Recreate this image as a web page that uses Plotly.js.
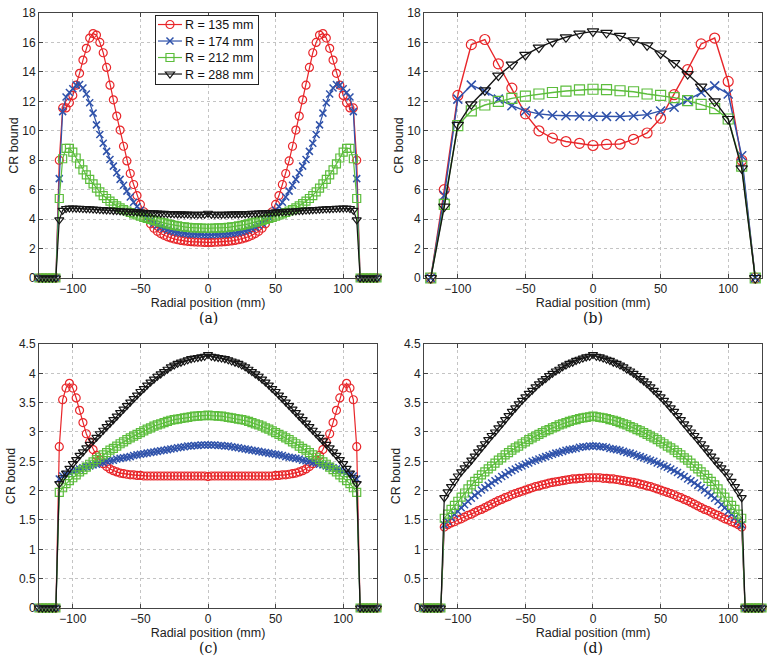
<!DOCTYPE html>
<html>
<head>
<meta charset="utf-8">
<script src="https://cdn.plot.ly/plotly-3.0.1.min.js"></script>
<style>html,body{margin:0;padding:0;background:#fff;}#chart{width:775px;height:666px;}</style>
</head>
<body>
<div id="chart"></div>
<script>
// ---------- data ----------
const SERIES_NAMES = ['R = 135 mm', 'R = 174 mm', 'R = 212 mm', 'R = 288 mm'];
const PANEL_LABELS = ['(a)', '(b)', '(c)', '(d)'];
const X_TICKS = [-100, -50, 0, 50, 100];
const Y_TICKS_AB = [0, 2, 4, 6, 8, 10, 12, 14, 16, 18];
const Y_TICKS_CD = [0, 0.5, 1, 1.5, 2, 2.5, 3, 3.5, 4, 4.5];

// fine radial grid (panels a, c, d), mm
const X_FINE = [-125,-122.5,-120,-117.5,-115,-112.5,-110,-107.5,-105,-102.5,-100,-97.5,-95,-92.5,-90,-87.5,-85,-82.5,-80,-77.5,-75,-72.5,-70,-67.5,-65,-62.5,-60,-57.5,-55,-52.5,-50,-47.5,-45,-42.5,-40,-37.5,-35,-32.5,-30,-27.5,-25,-22.5,-20,-17.5,-15,-12.5,-10,-7.5,-5,-2.5,0,2.5,5,7.5,10,12.5,15,17.5,20,22.5,25,27.5,30,32.5,35,37.5,40,42.5,45,47.5,50,52.5,55,57.5,60,62.5,65,67.5,70,72.5,75,77.5,80,82.5,85,87.5,90,92.5,95,97.5,100,102.5,105,107.5,110,112.5,115,117.5,120,122.5,125];
// coarse radial grid (panel b), mm
const X_COARSE = [-120,-110,-100,-90,-80,-70,-60,-50,-40,-30,-20,-10,0,10,20,30,40,50,60,70,80,90,100,110,120];

// panel (a)
const RED_A = [0,0,0,0,0,0,8.0,11.55,11.55,11.9,12.4,13.1,13.9,14.8,15.6,16.3,16.6,16.5,16.0,15.3,14.3,13.1,12.1,11.0,10.05,8.95,7.95,7.1,6.35,5.6,5.0,4.5,4.05,3.68,3.38,3.17,3.02,2.9,2.8,2.72,2.65,2.6,2.55,2.52,2.49,2.47,2.45,2.44,2.43,2.42,2.42,2.42,2.43,2.44,2.45,2.47,2.49,2.52,2.55,2.6,2.65,2.72,2.8,2.9,3.02,3.17,3.38,3.68,4.05,4.5,5.0,5.6,6.35,7.1,7.95,8.95,10.05,11.0,12.1,13.1,14.3,15.3,16.0,16.5,16.6,16.3,15.6,14.8,13.9,13.1,12.4,11.9,11.55,11.55,8.0,0,0,0,0,0,0];
const BLUE_A = [0,0,0,0,0,0,6.75,11.3,12.3,12.6,12.85,13.1,13.15,12.9,12.5,11.9,11.2,10.4,9.75,9.15,8.6,8.05,7.6,7.15,6.7,6.3,5.9,5.5,5.15,4.85,4.6,4.35,4.12,3.9,3.72,3.58,3.46,3.36,3.28,3.21,3.15,3.1,3.06,3.03,3.0,2.98,2.97,2.96,2.95,2.94,2.94,2.94,2.95,2.96,2.97,2.98,3.0,3.03,3.06,3.1,3.15,3.21,3.28,3.36,3.46,3.58,3.72,3.9,4.12,4.35,4.6,4.85,5.15,5.5,5.9,6.3,6.7,7.15,7.6,8.05,8.6,9.15,9.75,10.4,11.2,11.9,12.5,12.9,13.15,13.1,12.85,12.6,12.3,11.3,6.75,0,0,0,0,0,0];
const GREEN_A = [0,0,0,0,0,0,5.4,8.1,8.8,8.8,8.55,8.15,7.75,7.35,7.0,6.7,6.4,6.1,5.85,5.6,5.4,5.22,5.05,4.9,4.76,4.65,4.55,4.45,4.36,4.28,4.2,4.12,4.05,3.98,3.92,3.86,3.8,3.74,3.68,3.63,3.58,3.54,3.5,3.47,3.44,3.42,3.41,3.4,3.39,3.38,3.38,3.38,3.39,3.4,3.41,3.42,3.44,3.47,3.5,3.54,3.58,3.63,3.68,3.74,3.8,3.86,3.92,3.98,4.05,4.12,4.2,4.28,4.36,4.45,4.55,4.65,4.76,4.9,5.05,5.22,5.4,5.6,5.85,6.1,6.4,6.7,7.0,7.35,7.75,8.15,8.55,8.8,8.8,8.1,5.4,0,0,0,0,0,0];
const BLACK_A = [0,0,0,0,0,0,3.95,4.6,4.72,4.75,4.75,4.74,4.73,4.72,4.71,4.7,4.68,4.67,4.65,4.64,4.62,4.61,4.59,4.58,4.56,4.55,4.53,4.52,4.5,4.49,4.47,4.46,4.44,4.43,4.42,4.41,4.4,4.39,4.38,4.37,4.36,4.35,4.35,4.34,4.34,4.33,4.33,4.33,4.33,4.33,4.4,4.33,4.33,4.33,4.33,4.33,4.34,4.34,4.35,4.35,4.36,4.37,4.38,4.39,4.4,4.41,4.42,4.43,4.44,4.46,4.47,4.49,4.5,4.52,4.53,4.55,4.56,4.58,4.59,4.61,4.62,4.64,4.65,4.67,4.68,4.7,4.71,4.72,4.73,4.74,4.75,4.75,4.72,4.6,3.95,0,0,0,0,0,0];

// panel (b)
const RED_B = [0,6.0,12.4,15.85,16.2,14.55,12.9,11.15,10.0,9.5,9.27,9.15,9.0,9.08,9.1,9.42,9.85,10.85,12.45,14.15,15.9,16.3,13.35,8.0,0];
const BLUE_B = [0,5.6,12.15,13.1,12.7,12.15,11.7,11.35,11.15,11.05,11.02,11.0,10.97,10.98,10.97,11.02,11.1,11.35,11.6,12.1,12.6,13.05,12.5,8.3,0];
const GREEN_B = [0,5.0,10.35,11.35,11.75,12.0,12.2,12.35,12.5,12.6,12.7,12.78,12.82,12.8,12.72,12.65,12.5,12.4,12.25,12.05,11.8,11.5,10.8,7.6,0];
const BLACK_B = [0,4.85,10.4,11.8,12.75,13.75,14.5,15.15,15.65,16.05,16.35,16.6,16.75,16.65,16.45,16.15,15.8,15.25,14.6,13.85,13.0,12.0,10.8,7.45,0];

// panel (c)
const RED_C = [0,0,0,0,0,0,2.75,3.55,3.75,3.83,3.75,3.58,3.37,3.16,2.97,2.83,2.7,2.6,2.52,2.46,2.41,2.37,2.34,2.32,2.3,2.29,2.28,2.27,2.27,2.26,2.26,2.25,2.25,2.25,2.25,2.25,2.25,2.25,2.25,2.25,2.25,2.25,2.25,2.25,2.25,2.25,2.25,2.25,2.25,2.25,2.24,2.25,2.25,2.25,2.25,2.25,2.25,2.25,2.25,2.25,2.25,2.25,2.25,2.25,2.25,2.25,2.25,2.25,2.25,2.25,2.26,2.26,2.27,2.27,2.28,2.29,2.3,2.32,2.34,2.37,2.41,2.46,2.52,2.6,2.7,2.83,2.97,3.16,3.37,3.58,3.75,3.83,3.75,3.55,2.75,0,0,0,0,0,0];
const BLUE_C = [0,0,0,0,0,0,2.2,2.25,2.28,2.31,2.33,2.35,2.37,2.39,2.41,2.42,2.44,2.45,2.47,2.48,2.5,2.51,2.52,2.54,2.55,2.56,2.57,2.58,2.6,2.61,2.62,2.63,2.64,2.65,2.66,2.67,2.68,2.69,2.7,2.71,2.72,2.73,2.74,2.75,2.76,2.76,2.77,2.77,2.78,2.78,2.78,2.78,2.78,2.77,2.77,2.76,2.76,2.75,2.74,2.73,2.72,2.71,2.7,2.69,2.68,2.67,2.66,2.65,2.64,2.63,2.62,2.61,2.6,2.58,2.57,2.56,2.55,2.54,2.52,2.51,2.5,2.48,2.47,2.45,2.44,2.42,2.41,2.39,2.37,2.35,2.33,2.31,2.28,2.25,2.2,0,0,0,0,0,0];
const GREEN_C = [0,0,0,0,0,0,1.97,2.05,2.12,2.17,2.22,2.27,2.32,2.36,2.4,2.45,2.49,2.53,2.57,2.61,2.65,2.69,2.72,2.76,2.8,2.83,2.87,2.9,2.93,2.96,2.99,3.02,3.05,3.07,3.1,3.12,3.14,3.16,3.18,3.2,3.21,3.22,3.23,3.24,3.25,3.26,3.27,3.27,3.28,3.28,3.29,3.28,3.28,3.27,3.27,3.26,3.25,3.24,3.23,3.22,3.21,3.2,3.18,3.16,3.14,3.12,3.1,3.07,3.05,3.02,2.99,2.96,2.93,2.9,2.87,2.83,2.8,2.76,2.72,2.69,2.65,2.61,2.57,2.53,2.49,2.45,2.4,2.36,2.32,2.27,2.22,2.17,2.12,2.05,1.97,0,0,0,0,0,0];
const BLACK_C = [0,0,0,0,0,0,2.12,2.22,2.3,2.38,2.46,2.53,2.6,2.66,2.73,2.79,2.85,2.91,2.97,3.03,3.09,3.15,3.21,3.27,3.33,3.39,3.45,3.51,3.57,3.63,3.69,3.74,3.8,3.85,3.9,3.95,3.99,4.03,4.07,4.11,4.14,4.17,4.19,4.21,4.23,4.25,4.26,4.27,4.28,4.29,4.32,4.29,4.28,4.27,4.26,4.25,4.23,4.21,4.19,4.17,4.14,4.11,4.07,4.03,3.99,3.95,3.9,3.85,3.8,3.74,3.69,3.63,3.57,3.51,3.45,3.39,3.33,3.27,3.21,3.15,3.09,3.03,2.97,2.91,2.85,2.79,2.73,2.66,2.6,2.53,2.46,2.38,2.3,2.22,2.12,0,0,0,0,0,0];

// panel (d)
const RED_D = [0,0,0,0,0,0,1.38,1.42,1.45,1.47,1.5,1.52,1.55,1.58,1.6,1.63,1.66,1.68,1.71,1.74,1.77,1.8,1.83,1.85,1.88,1.9,1.93,1.95,1.97,1.99,2.01,2.03,2.05,2.07,2.08,2.1,2.11,2.13,2.14,2.15,2.16,2.17,2.18,2.19,2.2,2.2,2.21,2.21,2.22,2.22,2.22,2.22,2.22,2.21,2.21,2.2,2.2,2.19,2.18,2.17,2.16,2.15,2.14,2.13,2.11,2.1,2.08,2.07,2.05,2.03,2.01,1.99,1.97,1.95,1.93,1.9,1.88,1.85,1.83,1.8,1.77,1.74,1.71,1.68,1.66,1.63,1.6,1.58,1.55,1.52,1.5,1.47,1.45,1.42,1.38,0,0,0,0,0,0];
const BLUE_D = [0,0,0,0,0,0,1.42,1.48,1.54,1.6,1.65,1.71,1.76,1.82,1.87,1.92,1.96,2.01,2.05,2.09,2.13,2.17,2.2,2.24,2.27,2.31,2.34,2.37,2.4,2.42,2.45,2.47,2.5,2.52,2.54,2.56,2.58,2.6,2.62,2.64,2.65,2.67,2.69,2.7,2.71,2.72,2.74,2.75,2.75,2.76,2.76,2.76,2.75,2.75,2.74,2.72,2.71,2.7,2.69,2.67,2.65,2.64,2.62,2.6,2.58,2.56,2.54,2.52,2.5,2.47,2.45,2.42,2.4,2.37,2.34,2.31,2.27,2.24,2.2,2.17,2.13,2.09,2.05,2.01,1.96,1.92,1.87,1.82,1.76,1.71,1.65,1.6,1.54,1.48,1.42,0,0,0,0,0,0];
const GREEN_D = [0,0,0,0,0,0,1.53,1.6,1.68,1.75,1.82,1.89,1.96,2.03,2.1,2.16,2.21,2.27,2.32,2.37,2.42,2.47,2.52,2.56,2.61,2.65,2.69,2.73,2.76,2.8,2.83,2.87,2.9,2.93,2.96,2.99,3.02,3.04,3.07,3.09,3.12,3.14,3.16,3.18,3.2,3.21,3.23,3.24,3.25,3.26,3.27,3.26,3.25,3.24,3.23,3.21,3.2,3.18,3.16,3.14,3.12,3.09,3.07,3.04,3.02,2.99,2.96,2.93,2.9,2.87,2.83,2.8,2.76,2.73,2.69,2.65,2.61,2.56,2.52,2.47,2.42,2.37,2.32,2.27,2.21,2.16,2.1,2.03,1.96,1.89,1.82,1.75,1.68,1.6,1.53,0,0,0,0,0,0];
const BLACK_D = [0,0,0,0,0,0,1.88,1.98,2.07,2.16,2.25,2.32,2.39,2.45,2.52,2.59,2.66,2.73,2.8,2.87,2.94,3.0,3.07,3.14,3.21,3.28,3.35,3.41,3.48,3.54,3.6,3.66,3.71,3.77,3.82,3.87,3.91,3.96,4.0,4.04,4.07,4.11,4.14,4.17,4.19,4.22,4.24,4.26,4.28,4.29,4.32,4.29,4.28,4.26,4.24,4.22,4.19,4.17,4.14,4.11,4.07,4.04,4.0,3.96,3.91,3.87,3.82,3.77,3.71,3.66,3.6,3.54,3.48,3.41,3.35,3.28,3.21,3.14,3.07,3.0,2.94,2.87,2.8,2.73,2.66,2.59,2.52,2.45,2.39,2.32,2.25,2.16,2.07,1.98,1.88,0,0,0,0,0,0];

// ---------- sanity ----------
[RED_A,BLUE_A,GREEN_A,BLACK_A,RED_C,BLUE_C,GREEN_C,BLACK_C,RED_D,BLUE_D,GREEN_D,BLACK_D].forEach((a,i)=>{
  if (a.length !== X_FINE.length) throw new Error('fine series '+i+' has length '+a.length);
});
[RED_B,BLUE_B,GREEN_B,BLACK_B].forEach((a,i)=>{
  if (a.length !== X_COARSE.length) throw new Error('coarse series '+i+' has length '+a.length);
});

// ---------- styles ----------
const COLORS = ['#e8262a', '#2f52aa', '#5cbd3c', '#151515'];
const SYMBOLS = ['circle-open', 'x-thin-open', 'square-open', 'triangle-down-open'];

function trace(x, y, k, ax, size, lw, showlegend) {
  return {
    type: 'scatter', mode: 'lines+markers', x: x, y: y,
    name: SERIES_NAMES[k], showlegend: showlegend, legendgroup: 's' + k,
    xaxis: 'x' + ax, yaxis: 'y' + ax, cliponaxis: false,
    line: {color: COLORS[k], width: lw},
    marker: {symbol: SYMBOLS[k], size: (k === 1 ? size - 1 : size), color: COLORS[k],
             line: {color: COLORS[k], width: (k === 1 ? 1.5 : 1.2)}}
  };
}

const data = [];
[RED_A, BLUE_A, GREEN_A, BLACK_A].forEach((y, k) => data.push(trace(X_FINE, y, k, '', 8, 1.2, true)));
[RED_B, BLUE_B, GREEN_B, BLACK_B].forEach((y, k) => data.push(trace(X_COARSE, y, k, '2', 10, 1.4, false)));
[RED_C, BLUE_C, GREEN_C, BLACK_C].forEach((y, k) => data.push(trace(X_FINE, y, k, '3', 8, 1.2, false)));
[RED_D, BLUE_D, GREEN_D, BLACK_D].forEach((y, k) => data.push(trace(X_FINE, y, k, '4', 8, 1.2, false)));

const FONT = 'Liberation Sans, Arial, sans-serif';
function xax(domain, anchor) {
  return {
    domain: domain, anchor: anchor, range: [-125, 125], tickvals: X_TICKS,
    ticks: 'inside', ticklen: 4, tickcolor: '#444', showline: true, linecolor: '#444', linewidth: 1,
    mirror: 'ticks', showgrid: true, gridcolor: '#c4c4c4', griddash: 'dot', gridwidth: 1, zeroline: false,
    tickfont: {family: FONT, size: 12, color: '#222'},
    title: {text: 'Radial position (mm)', font: {family: FONT, size: 12.5, color: '#222'}, standoff: 0}
  };
}
function yax(domain, anchor, range, ticks) {
  return {
    domain: domain, anchor: anchor, range: range, tickvals: ticks,
    ticks: 'inside', ticklen: 4, tickcolor: '#444', showline: true, linecolor: '#444', linewidth: 1,
    mirror: 'ticks', showgrid: true, gridcolor: '#c4c4c4', griddash: 'dot', gridwidth: 1, zeroline: false,
    tickfont: {family: FONT, size: 12, color: '#222'},
    title: {text: 'CR bound', font: {family: FONT, size: 12.5, color: '#222'}, standoff: 0}
  };
}

const XL = [0, 0.4675], XR = [0.5325, 1];
const YT = [0.5546, 1], YB = [0, 0.4437];

const layout = {
  width: 775, height: 666,
  margin: {l: 39, r: 13, t: 13, b: 58},
  paper_bgcolor: '#ffffff', plot_bgcolor: '#ffffff',
  font: {family: FONT, color: '#222'},
  xaxis: xax(XL, 'y'), yaxis: yax(YT, 'x', [0, 18], Y_TICKS_AB),
  xaxis2: xax(XR, 'y2'), yaxis2: yax(YT, 'x2', [0, 18], Y_TICKS_AB),
  xaxis3: xax(XL, 'y3'), yaxis3: yax(YB, 'x3', [0, 4.5], Y_TICKS_CD),
  xaxis4: xax(XR, 'y4'), yaxis4: yax(YB, 'x4', [0, 4.5], Y_TICKS_CD),
  legend: {
    x: 0.1604, y: 0.9966, xanchor: 'left', yanchor: 'top',
    bgcolor: '#ffffff', bordercolor: '#222', borderwidth: 1,
    font: {family: FONT, size: 12.5, color: '#111'}, tracegroupgap: 0, itemwidth: 30
  },
  annotations: [
    {text: PANEL_LABELS[0], xref: 'paper', yref: 'paper', x: 0.2338, y: 0, xanchor: 'center', yanchor: 'middle', showarrow: false},
    {text: PANEL_LABELS[1], xref: 'paper', yref: 'paper', x: 0.7662, y: 0, xanchor: 'center', yanchor: 'middle', showarrow: false},
    {text: PANEL_LABELS[2], xref: 'paper', yref: 'paper', x: 0.2338, y: 0, xanchor: 'center', yanchor: 'middle', showarrow: false},
    {text: PANEL_LABELS[3], xref: 'paper', yref: 'paper', x: 0.7662, y: 0, xanchor: 'center', yanchor: 'middle', showarrow: false}
  ]
};
// caption vertical positions (pixel rows 318 and 648 in a 666 px figure)
const innerH = 666 - 13 - 58;
layout.annotations[0].y = layout.annotations[1].y = (666 - 58 - 318) / innerH;
layout.annotations[2].y = layout.annotations[3].y = (666 - 58 - 648) / innerH;
layout.annotations.forEach(a => { a.font = {family: 'DejaVu Serif, Liberation Serif, serif', size: 14, color: '#111'}; });

Plotly.newPlot('chart', data, layout, {displayModeBar: false, staticPlot: true}).then(gd => {
  // compact legend like the reference: tighter rows, shorter line samples
  const items = gd.querySelectorAll('.legend .traces');
  const step = 16.5;
  items.forEach((g, i) => {
    g.setAttribute('transform', 'translate(1,' + (9.5 + step * i) + ')');
    const txt = g.querySelector('.legendtext');
    if (txt) txt.setAttribute('x', '29');
    g.querySelectorAll('.legendlines path').forEach(p => p.setAttribute('d', 'M2,0h24'));
    g.querySelectorAll('.legendpoints .scatterpts').forEach(p => p.setAttribute('transform', 'translate(14,0)'));
  });
  const bg = gd.querySelector('.legend .bg');
  if (bg) {
    bg.setAttribute('height', (step * items.length + 3).toFixed(1));
    bg.setAttribute('width', '103');
  }
});
</script>
</body>
</html>
